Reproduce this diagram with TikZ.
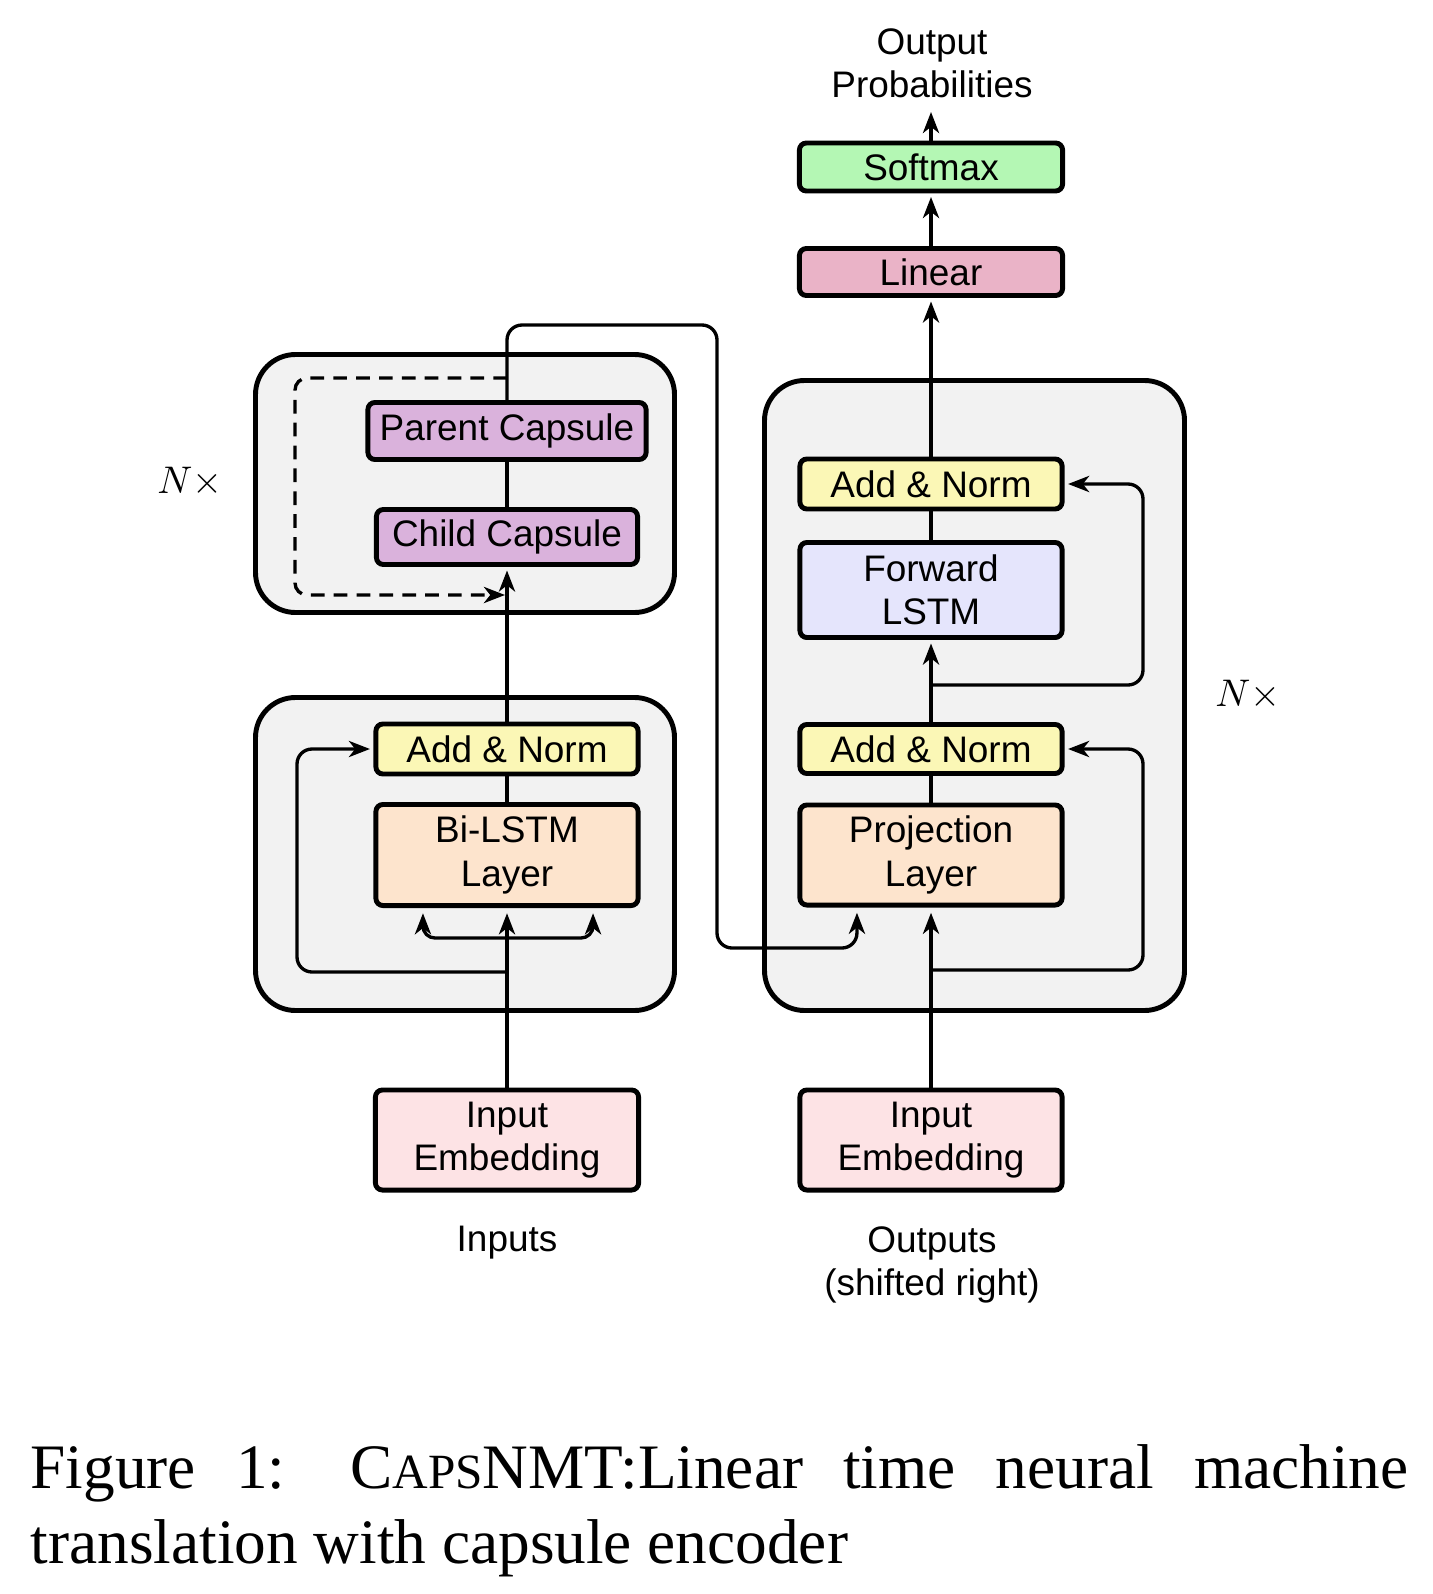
\documentclass[tikz,border=0pt]{standalone}
\usepackage{fontspec}
\setmainfont{Liberation Serif}
\newfontfamily\arialf{Liberation Sans}
\usetikzlibrary{arrows.meta,calc}
\definecolor{softmaxc}{RGB}{180,247,180}
\definecolor{linearc}{RGB}{234,179,199}
\definecolor{capc}{RGB}{218,178,220}
\definecolor{addc}{RGB}{251,247,182}
\definecolor{fwdc}{RGB}{229,229,252}
\definecolor{projc}{RGB}{253,228,205}
\definecolor{embc}{RGB}{253,227,229}
\definecolor{bgc}{RGB}{242,242,242}
\begin{document}
\begin{tikzpicture}[x=0.01cm,y=-0.01cm,
  blk/.style={draw, line width=1.4pt, rounded corners=0.07cm, inner sep=0pt, align=center,
    font=\arialf\fontsize{10.5}{12.3}\selectfont, minimum width=2.62cm, minimum height=0.5cm},
  tall/.style={minimum height=1.0cm},
  big/.style={draw, line width=1.4pt, fill=bgc, rounded corners=0.4cm},
  conn/.style={line width=0.95pt},
  arr/.style={-{Stealth[length=6pt,width=4.6pt,inset=1.8pt]}},
  lbl/.style={align=center, inner sep=0pt, font=\arialf\fontsize{10.5}{12.3}\selectfont},
  rc/.style={rounded corners=0.15cm}]
\fill[white] (0,0) rectangle (1432,1594);
\useasboundingbox (0,0) rectangle (1432,1594);

% big grey containers
\draw[big] (255.5,354.5) rectangle (674.5,612.5);
\draw[big] (255.5,697.5) rectangle (674.5,1010.5);
\draw[big] (764.5,380.5) rectangle (1184.5,1010.5);

% right column
\node[blk, fill=softmaxc, minimum width=2.63cm, minimum height=0.48cm] (softmax) at (931,167) {Softmax};
\node[blk, fill=linearc, minimum width=2.63cm, minimum height=0.47cm] (linear) at (931,272) {Linear};
\node[blk, fill=addc, minimum height=0.5cm] (addR2) at (931,484) {Add \& Norm};
\node[blk, fill=fwdc, minimum height=0.95cm] (fwd) at (931,590) {Forward\\LSTM};
\node[blk, fill=addc, minimum height=0.49cm] (addR1) at (931,749) {Add \& Norm};
\node[blk, fill=projc, tall] (proj) at (931,855) {Projection\\Layer};
\node[blk, fill=embc, tall] (embR) at (931,1140) {Input\\Embedding};

% left column
\node[blk, fill=capc, minimum width=2.78cm, minimum height=0.57cm] (parent) at (507,431) {Parent Capsule};
\node[blk, fill=capc, minimum width=2.61cm, minimum height=0.55cm] (child) at (507,537) {Child Capsule};
\node[blk, fill=addc, minimum height=0.5cm] (addL) at (507,749) {Add \& Norm};
\node[blk, fill=projc, minimum height=1.01cm] (bilstm) at (507,855) {Bi-LSTM\\Layer};
\node[blk, fill=embc, minimum width=2.63cm, tall] (embL) at (507,1140) {Input\\Embedding};

% labels
\node[lbl] (outprob) at (932,63) {Output\\Probabilities};
\node[lbl] (inputs) at (507,1243) {Inputs};
\node[lbl] (outputs) at (932,1265) {Outputs\\(shifted right)};
\node[inner sep=0pt] (nl) at (190,482) {\fontsize{10.5}{12}\selectfont$N\times$};
\node[inner sep=0pt] (nr) at (1248,695) {\fontsize{10.5}{12}\selectfont$N\times$};

% junction coordinates
\coordinate (outtip) at (931,112);
\coordinate (jL1) at (507,938);
\coordinate (jL2) at (507,972);
\coordinate (jLc) at (297,972);
\coordinate (jR1) at (931,970);
\coordinate (jR2) at (931,685);
\coordinate (top1) at (507,325);
\coordinate (top2) at (717,948);
\coordinate (dash0) at (507,378);
\coordinate (dash1) at (295,595);
\coordinate (dash2) at (505,595);

% left connectors
\draw[conn,arr,shorten >=1.5pt] (embL.north) -- (bilstm.south);
\draw[conn,arr,rounded corners=0.12cm,shorten >=1.5pt] (jL1) -| ([xshift=-0.84cm]bilstm.south);
\draw[conn,arr,rounded corners=0.12cm,shorten >=1.5pt] (jL1) -| ([xshift=0.86cm]bilstm.south);
\draw[conn,arr,rc,shorten >=1pt] (jL2) -| (jLc |- addL.west) -- (addL.west);
\draw[conn] (bilstm.north) -- (addL.south);
\draw[conn,arr,shorten >=1pt] (addL.north) -- (child.south);
\draw[conn] (child.north) -- (parent.south);
\draw[conn,dashed,dash pattern=on 3.9pt off 2.6pt,arr,rounded corners=0.12cm] (dash0) -| (dash1) -- (dash2);
\draw[conn,arr,rc,shorten >=1.5pt] (parent.north) -- (top1) -| (top2) -| ([xshift=-0.74cm]proj.south);

% right connectors
\draw[conn,arr,shorten >=1.5pt] (embR.north) -- (proj.south);
\draw[conn,arr,rc,shorten >=1pt] (jR1) -| ($(1143,0)!(addR1.east)!(1143,1)$) -- (addR1.east);
\draw[conn] (proj.north) -- (addR1.south);
\draw[conn,arr,shorten >=1pt] (addR1.north) -- (fwd.south);
\draw[conn,arr,rc,shorten >=1pt] (jR2) -| ($(1143,0)!(addR2.east)!(1143,1)$) -- (addR2.east);
\draw[conn] (fwd.north) -- (addR2.south);
\draw[conn,arr,shorten >=1pt] (addR2.north) -- (linear.south);
\draw[conn,arr,shorten >=1pt] (linear.north) -- (softmax.south);
\draw[conn,arr] (softmax.north) -- (outtip);

% caption
\node[anchor=base west, inner sep=0pt] (cap1) at (30,1488) {\fontsize{18}{21}\selectfont\hbox to 13.77cm{Figure\hfill 1:\hskip 0.25cm\hfill C{\fontsize{14}{16}\selectfont APS}NMT:Linear\hfill time\hfill neural\hfill machine}};
\node[anchor=base west, inner sep=0pt] (cap2) at (30,1563) {\fontsize{18}{21}\selectfont translation with capsule encoder};
\end{tikzpicture}
\end{document}
